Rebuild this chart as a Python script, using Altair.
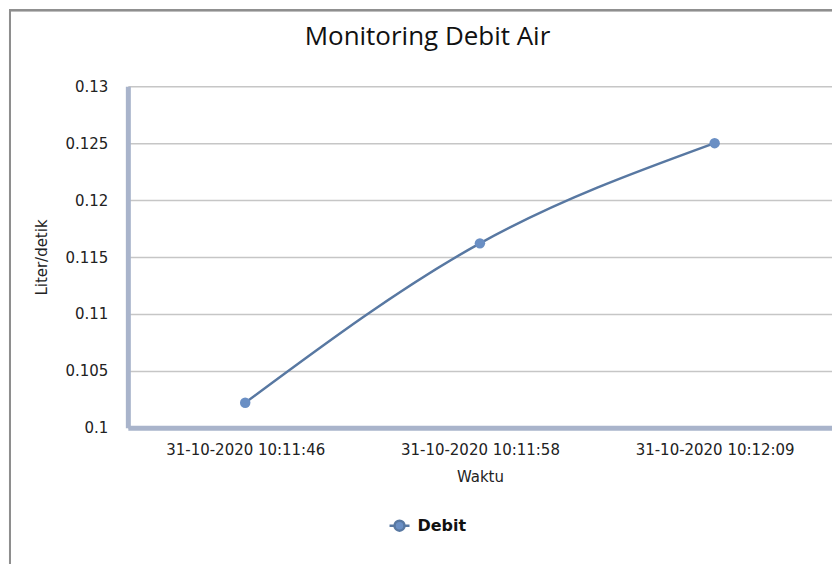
import altair as alt
import pandas as pd

# Flow readings (litres per second) at each timestamp
waktu = ["31-10-2020 10:11:46", "31-10-2020 10:11:58", "31-10-2020 10:12:09"]
debit = [0.1022, 0.1162, 0.125]
seri = ["Debit", "Debit", "Debit"]

y_ticks = [0.1, 0.105, 0.11, 0.115, 0.12, 0.125, 0.13]
judul = "Monitoring Debit Air"

df = pd.DataFrame({"Waktu": waktu, "Debit": debit, "Seri": seri})

LINE = "#5878A2"
DOT = "#6A8FC4"
AXIS = "#A9B4CB"
FONT = "DejaVu Sans"

x_enc = alt.X(
    "Waktu:N",
    sort=waktu,
    title="Waktu",
    axis=alt.Axis(labelAngle=0, labelPadding=15, titlePadding=12, grid=False),
)
y_enc = alt.Y(
    "Debit:Q",
    title="Liter/detik",
    scale=alt.Scale(domain=[0.1, 0.13], nice=False, zero=False),
    axis=alt.Axis(values=y_ticks, format=".3~f", labelPadding=20, titlePadding=16, grid=True),
)

base = alt.Chart(df)

line = base.mark_line(interpolate="monotone", strokeWidth=2.5).encode(
    x=x_enc,
    y=y_enc,
    color=alt.Color(
        "Seri:N",
        title=None,
        scale=alt.Scale(range=[LINE]),
        legend=alt.Legend(
            orient="none",
            legendX=264,
            legendY=432,
            symbolType="M-2,0H-1M1,0H2M1,0A1,1,0,1,1,-1,0A1,1,0,1,1,1,0Z",
            symbolSize=100,
            symbolStrokeWidth=2.5,
            symbolFillColor=DOT,
            labelFont=FONT,
            labelFontSize=16,
            labelFontWeight="bold",
            labelColor="#111111",
            labelOffset=10,
        ),
    ),
)

points = base.mark_circle(size=110, color=DOT, opacity=1).encode(x=x_enc, y=y_enc)

# outer chart frame
frame = base.mark_rect(fill="transparent", stroke="#8E8E8E", strokeWidth=2).encode(
    x=alt.value(-118), x2=alt.value(900), y=alt.value(-76), y2=alt.value(700)
)

# chart heading, centred on the outer frame
heading = alt.Chart(pd.DataFrame({"judul": [judul]})).mark_text(
    font="Open Sans", fontSize=26, color="#111111", baseline="middle", align="center"
).encode(text="judul:N", x=alt.value(300), y=alt.value(-49))

chart = (
    alt.layer(frame, line, points, heading)
    .properties(
        width=705,
        height=342,
        autosize=alt.AutoSizeParams(type="none"),
        padding={"left": 128, "top": 86, "right": 0, "bottom": 136},
    )
    .configure_view(stroke="transparent")
    .configure_axis(
        domainColor=AXIS,
        domainWidth=5,
        ticks=False,
        tickSize=0,
        gridColor="#C6C6C6",
        gridWidth=1.5,
        labelFont=FONT,
        labelFontSize=15,
        labelColor="#222222",
        titleFont=FONT,
        titleFontSize=15,
        titleFontWeight="normal",
        titleColor="#222222",
    )
)

chart.save("out.html", embed_options={"renderer": "svg", "actions": False})
